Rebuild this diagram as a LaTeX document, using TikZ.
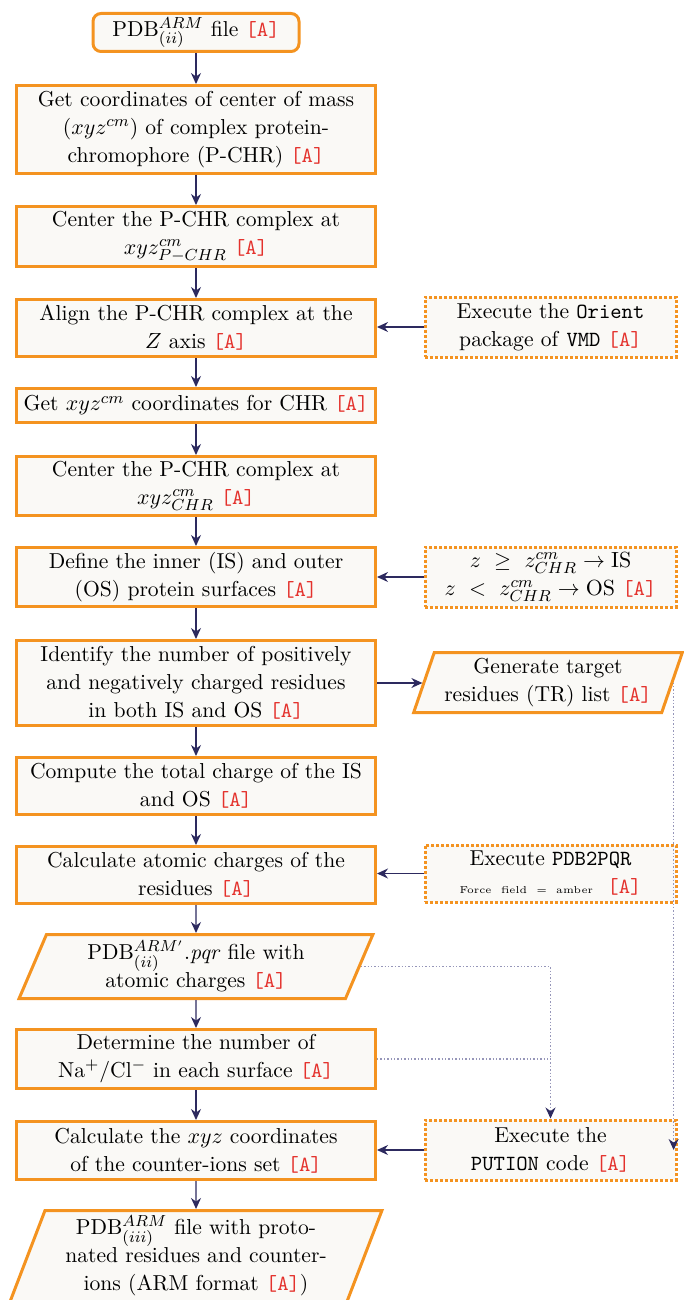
\documentclass[tikz,border=0pt]{standalone}
\usetikzlibrary{shapes.geometric,arrows.meta}
\definecolor{boxorange}{RGB}{244,147,32}
\definecolor{boxfill}{RGB}{250,249,246}
\definecolor{arrnavy}{RGB}{45,42,95}
\definecolor{refred}{RGB}{228,50,45}
\definecolor{dotgray}{RGB}{150,150,185}
\newcommand{\refA}{\textcolor{refred}{\texttt{[A]}}}
\begin{document}
\begin{tikzpicture}[x=0.5pt,y=-0.5pt,
  font=\fontsize{10.8}{14}\selectfont,
  mainbox/.style={draw=boxorange, line width=1.5pt, fill=boxfill, align=center,
    minimum width=179.5pt, inner sep=1pt},
  topbox/.style={mainbox, rounded corners=4pt, minimum width=103pt, minimum height=19pt},
  sidebox/.style={draw=boxorange, line width=1.5pt, densely dotted, fill=boxfill, align=center,
    minimum width=125.5pt, minimum height=30pt, inner sep=1pt},
  iobox/.style={trapezium, trapezium left angle=70, trapezium right angle=110,
    trapezium stretches=true, draw=boxorange, line width=1.5pt, fill=boxfill,
    align=center, inner sep=1pt},
  arr/.style={draw=arrnavy, line width=0.6pt, -{Stealth[length=5.5pt,width=5pt]}},
  dotarr/.style={draw=dotgray, line width=0.7pt, densely dotted,
    -{Stealth[length=5.5pt,width=5pt,fill=arrnavy,color=arrnavy,sep=0pt]}},
  dotline/.style={draw=dotgray, line width=0.7pt, densely dotted}
]
\useasboundingbox (0,0) rectangle (684,1300);

\node[topbox] (top) at (196,32.5) {PDB$^{ARM}_{(ii)}$ file \refA};
\node[mainbox, minimum height=44pt] (b2) at (196,129.5)
  {Get coordinates of center of mass\\($xyz^{cm}$) of complex protein-\\chromophore (P-CHR) \refA};
\node[mainbox, minimum height=30pt] (b3) at (196,236.5)
  {Center the P-CHR complex at\\$xyz^{cm}_{P-CHR}$ \refA};
\node[mainbox, minimum height=28.5pt] (b4) at (196,328)
  {Align the P-CHR complex at the\\$Z$ axis \refA};
\node[mainbox, minimum height=17pt] (b5) at (196,405.5)
  {Get $xyz^{cm}$ coordinates for CHR \refA};
\node[mainbox, minimum height=29.5pt] (b6) at (196,486)
  {Center the P-CHR complex at\\$xyz^{cm}_{CHR}$ \refA};
\node[mainbox, minimum height=29.5pt] (b7) at (196,577)
  {Define the inner (IS) and outer\\(OS) protein surfaces \refA};
\node[mainbox, minimum height=42.5pt] (b8) at (196,683)
  {Identify the number of positively\\and negatively charged residues\\in both IS and OS \refA};
\node[mainbox, minimum height=28.5pt] (b9) at (196,786)
  {Compute the total charge of the IS\\and OS \refA};
\node[mainbox, minimum height=28.5pt] (b10) at (196,875)
  {Calculate atomic charges of the\\residues \refA};
\node[iobox, minimum width=177pt, minimum height=32pt] (p11) at (196,966.5)
  {PDB$^{ARM'}_{(ii)}$.\textit{pqr} file with\\atomic charges \refA};
\node[mainbox, minimum height=29.5pt] (b12) at (196,1059)
  {Determine the number of\\Na$^+$/Cl$^-$ in each surface \refA};
\node[mainbox, minimum height=29pt] (b13) at (196,1150.5)
  {Calculate the $xyz$ coordinates\\of the counter-ions set \refA};
\node[iobox, minimum width=186pt, minimum height=45.5pt] (p14) at (196,1256)
  {PDB$^{ARM}_{(iii)}$ file with proto-\\nated residues and counter-\\ions (ARM format \refA)};

\node[sidebox] (orient) at (550.5,327) {Execute the \texttt{Orient}\\package of \texttt{VMD} \refA};
\node[sidebox] (isos) at (550.5,577)
  {$z\ \geq\ z^{cm}_{CHR} \rightarrow \mathrm{IS}$\\$z\ <\ z^{cm}_{CHR} \rightarrow \mathrm{OS}$ \refA};
\node[iobox, minimum width=134.5pt, minimum height=30pt] (tr) at (548,682.5)
  {Generate target\\residues (TR) list \refA};
\node[sidebox, minimum height=28.5pt] (pqr) at (550.5,873.5)
  {Execute \texttt{PDB2PQR}\\{\tiny Force\ \ field\ \ =\ \ amber}\ \ \refA};
\node[sidebox] (pution) at (550.5,1150) {Execute the\\\texttt{PUTION} code \refA};

\draw[arr] (top.south) -- (b2.north);
\draw[arr] (b2.south) -- (b3.north);
\draw[arr] (b3.south) -- (b4.north);
\draw[arr] (b4.south) -- (b5.north);
\draw[arr] (b5.south) -- (b6.north);
\draw[arr] (b6.south) -- (b7.north);
\draw[arr] (b7.south) -- (b8.north);
\draw[arr] (b8.south) -- (b9.north);
\draw[arr] (b9.south) -- (b10.north);
\draw[arr] (b10.south) -- (p11.north);
\draw[arr] (p11.south) -- (b12.north);
\draw[arr] (b12.south) -- (b13.north);
\draw[arr] (b13.south) -- (p14.north);

\draw[arr] (orient.west) -- (b4.east |- orient.west);
\draw[arr] (isos.west) -- (b7.east |- isos.west);
\draw[arr] (b8.east) -- (tr.west |- b8.east);
\draw[arr] (pqr.west) -- (b10.east |- pqr.west);
\draw[arr] (pution.west) -- (b13.east |- pution.west);

\draw[dotarr] (tr.east) -- (tr.east |- pution.east);
\draw[dotarr] (p11.east) -| (pution.north);
\draw[dotline] (b12.east) -- (b12.east -| pution.north);
\end{tikzpicture}
\end{document}
